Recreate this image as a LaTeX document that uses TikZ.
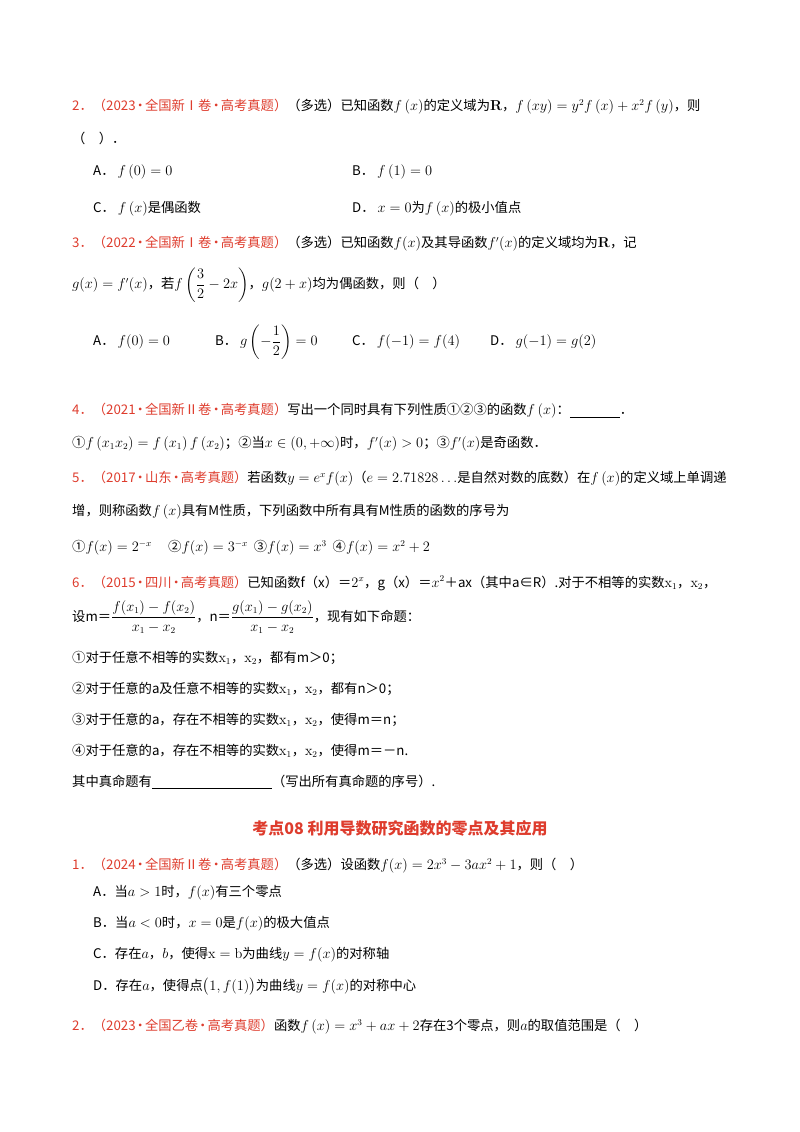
\documentclass[tikz,border=0pt]{standalone}
\usepackage{amsmath}
\usepackage[no-math]{fontspec}
\setmainfont{Noto Sans CJK SC}
\definecolor{qred}{RGB}{222,60,45}
\begin{document}
\begin{tikzpicture}[x=1pt,y=-1pt,
  t/.style={anchor=west,inner sep=0pt,font=\fontsize{13.3}{16}\selectfont},
  ttl/.style={anchor=center,inner sep=0pt,font=\fontsize{16}{19}\selectfont\bfseries,text=qred}]
\useasboundingbox (0,0) rectangle (800,1132);
\newcommand{\hd}[1]{\textcolor{qred}{#1}}
\newcommand{\dt}{\kern-2pt·\kern-2pt}
% problem 2
\node[t] (p2a) at (72,107) {\hd{2．（2023\dt 全国新Ⅰ卷\dt 高考真题）}（多选）已知函数$f\left(x\right)$的定义域为$\mathbf{R}$，$f\left(xy\right)=y^2f\left(x\right)+x^2f\left(y\right)$，则};
\node[t] (p2b) at (72,138) {（\quad）．};
\node[t] (p2A) at (93,172) {A．\ $f\left(0\right)=0$};
\node[t] (p2B) at (352,172) {B．\ $f\left(1\right)=0$};
\node[t] (p2C) at (93,209) {C．\ $f\left(x\right)$是偶函数};
\node[t] (p2D) at (352,209) {D．\ $x=0$为$f\left(x\right)$的极小值点};
% problem 3
\node[t] (p3a) at (72,244) {\hd{3．（2022\dt 全国新Ⅰ卷\dt 高考真题）}（多选）已知函数$f(x)$及其导函数$f'(x)$的定义域均为$\mathbf{R}$，记};
\node[t] (p3b) at (72,285) {$g(x)=f'(x)$，若$f\left(\dfrac{3}{2}-2x\right)$，$g(2+x)$均为偶函数，则（\quad）};
\node[t] (p3A) at (93,342) {A．\ $f(0)=0$};
\node[t] (p3B) at (215,342) {B．\ $g\left(-\dfrac12\right)=0$};
\node[t] (p3C) at (352,342) {C．\ $f(-1)=f(4)$};
\node[t] (p3D) at (490,342) {D．\ $g(-1)=g(2)$};
% problem 4
\node[t] (p4a) at (72,411) {\hd{4．（2021\dt 全国新Ⅱ卷\dt 高考真题）}写出一个同时具有下列性质①②③的函数$f\left(x\right)$：\underline{\hspace{50pt}}．};
\node[t] (p4b) at (72,444) {①$f\left(x_1x_2\right)=f\left(x_1\right)f\left(x_2\right)$；②当$x\in(0,+\infty)$时，$f'(x)>0$；③$f'(x)$是奇函数．};
% problem 5
\node[t] (p5a) at (72,479) {\hd{5．（2017\dt 山东\dt 高考真题）}若函数$y=e^xf(x)$（$e=2.71828\ldots$是自然对数的底数）在$f\left(x\right)$的定义域上单调递};
\node[t] (p5b) at (72,512) {增，则称函数$f\left(x\right)$具有M性质，下列函数中所有具有M性质的函数的序号为};
\node[t] (p5c) at (72,548) {①$f(x)=2^{-x}$\quad\ ②$f(x)=3^{-x}$\ \ ③$f(x)=x^3$\ \ ④$f(x)=x^2+2$};
% problem 6
\node[t] (p6a) at (72,583) {\hd{6．（2015\dt 四川\dt 高考真题）}已知函数f（x）＝$2^x$，g（x）＝$x^2$＋ax（其中a∈R）.对于不相等的实数$\mathrm{x}_1$，$\mathrm{x}_2$，};
\node[t] (p6b) at (72,617) {设m＝$\dfrac{f(x_1)-f(x_2)}{x_1-x_2}$，n＝$\dfrac{g(x_1)-g(x_2)}{x_1-x_2}$，现有如下命题：};
\node[t] (p6c) at (72,658) {①对于任意不相等的实数$\mathrm{x}_1$，$\mathrm{x}_2$，都有m＞0；};
\node[t] (p6d) at (72,689) {②对于任意的a及任意不相等的实数$\mathrm{x}_1$，$\mathrm{x}_2$，都有n＞0；};
\node[t] (p6e) at (72,720) {③对于任意的a，存在不相等的实数$\mathrm{x}_1$，$\mathrm{x}_2$，使得m＝n；};
\node[t] (p6f) at (72,751) {④对于任意的a，存在不相等的实数$\mathrm{x}_1$，$\mathrm{x}_2$，使得m＝－n.};
\node[t] (p6g) at (72,782) {其中真命题有\underline{\hspace{120pt}}（写出所有真命题的序号）.};
% title
\node[ttl] (title) at (400,828) {考点08\ 利用导数研究函数的零点及其应用};
% section problems
\node[t] (q1a) at (72,866) {\hd{1．（2024\dt 全国新Ⅱ卷\dt 高考真题）}（多选）设函数$f(x)=2x^3-3ax^2+1$，则（\quad）};
\node[t] (q1A) at (93,893) {A．当$a>1$时，$f(x)$有三个零点};
\node[t] (q1B) at (93,924) {B．当$a<0$时，$x=0$是$f(x)$的极大值点};
\node[t] (q1C) at (93,955) {C．存在$a$，$b$，使得$\mathrm{x}=\mathrm{b}$为曲线$y=f(x)$的对称轴};
\node[t] (q1D) at (93,987) {D．存在$a$，使得点$\bigl(1,f(1)\bigr)$为曲线$y=f(x)$的对称中心};
\node[t] (q2a) at (72,1027) {\hd{2．（2023\dt 全国乙卷\dt 高考真题）}函数$f\left(x\right)=x^3+ax+2$存在3个零点，则$a$的取值范围是（\quad）};
\end{tikzpicture}
\end{document}
